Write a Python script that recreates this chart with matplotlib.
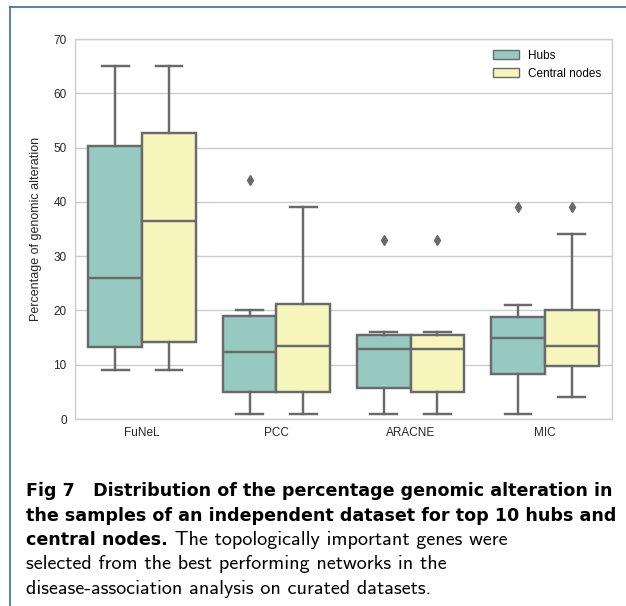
import matplotlib
matplotlib.use("Agg")
import matplotlib.pyplot as plt
from matplotlib.lines import Line2D
from matplotlib.patches import Patch
import seaborn as sns

# data (box stats per method)
methods = ["FuNeL", "PCC", "ARACNE", "MIC"]
groups = ["Hubs", "Central nodes"]

hubs_whislo = [9, 1, 1, 1]
hubs_q1 = [13.2, 5, 5.7, 8.2]
hubs_med = [26, 12.4, 12.9, 15]
hubs_q3 = [50.2, 18.9, 15.4, 18.7]
hubs_whishi = [65, 20, 16, 21]
hubs_fliers = [[], [44], [33], [39]]

central_whislo = [9, 1, 1, 4]
central_q1 = [14.2, 5, 4.9, 9.7]
central_med = [36.5, 13.4, 12.9, 13.4]
central_q3 = [52.7, 21.1, 15.5, 20.1]
central_whishi = [65, 39, 16, 34]
central_fliers = [[], [], [33], [39]]

caption_bold = ["Fig 7   Distribution of the percentage genomic alteration in",
                "the samples of an independent dataset for top 10 hubs and",
                "central nodes."]
caption_rest = [" The topologically important genes were",
                "selected from the best performing networks in the",
                "disease-association analysis on curated datasets."]

pal = [sns.desaturate(c, 0.75) for c in sns.color_palette("Set3", 2)]
gray = "#6a6a6a"

plt.rcParams["font.family"] = ["Liberation Sans", "DejaVu Sans"]

fig = plt.figure(figsize=(6.26, 6.06), dpi=100)
W, H = 626, 606
ax = fig.add_axes([75 / W, 1 - 419 / H, 537 / W, 380 / H])


def make_stats(lo, q1, med, q3, hi, fl):
    return [dict(whislo=a, q1=b, med=c, q3=d, whishi=e, fliers=f)
            for a, b, c, d, e, f in zip(lo, q1, med, q3, hi, fl)]


sets = [make_stats(hubs_whislo, hubs_q1, hubs_med, hubs_q3, hubs_whishi, hubs_fliers),
        make_stats(central_whislo, central_q1, central_med, central_q3, central_whishi, central_fliers)]

lw = 1.75
for k, stats in enumerate(sets):
    pos = [i - 0.2 + 0.4 * k for i in range(len(methods))]
    ax.bxp(stats, positions=pos, widths=0.4, patch_artist=True,
           boxprops=dict(facecolor=pal[k], edgecolor=gray, linewidth=lw),
           medianprops=dict(color=gray, linewidth=lw),
           whiskerprops=dict(color=gray, linewidth=lw),
           capprops=dict(color=gray, linewidth=lw),
           flierprops=dict(marker="d", markerfacecolor=gray, markeredgecolor=gray,
                           markersize=5, linestyle="none"),
           manage_ticks=False, zorder=3)

ax.set_xlim(-0.5, len(methods) - 0.5)
ax.set_ylim(0, 70)
ax.set_xticks(range(len(methods)))
ax.set_xticklabels(methods)
ax.set_yticks(range(0, 71, 10))
ax.tick_params(length=0, labelsize=8.5, colors="#262626")
ax.tick_params(axis="y", pad=6)
ax.tick_params(axis="x", pad=6)
ax.grid(axis="y", color="#cccccc", linewidth=1)
ax.set_axisbelow(True)
for s in ax.spines.values():
    s.set_color("#cccccc")
    s.set_linewidth(1)
ax.set_ylabel("Percentage of genomic alteration", fontsize=9, color="#262626", labelpad=8)

handles = [Patch(facecolor=pal[k], edgecolor=gray, linewidth=1) for k in range(2)]
ax.legend(handles, groups, loc="upper right", frameon=False, fontsize=8.5,
          handlelength=2.2, handleheight=0.8)

# page border lines
fig.add_artist(Line2D([10 / W, 10 / W], [0, 1 - 7 / H], color="#3a6ea5", linewidth=1.2))
fig.add_artist(Line2D([10 / W, 1], [1 - 7 / H, 1 - 7 / H], color="#3a6ea5", linewidth=1.2))

# caption
reg_font = "cmss10"
bold_font = "DejaVu Sans"
fs = 14.5
x0 = 26 / W
baselines = [496.5, 520.8, 545.1, 569.4, 593.7]
r = fig.canvas.get_renderer()

# fit the bold size so the first two lines span about the reference width
probe = fig.text(0, 0, caption_bold[1], fontsize=13, family=bold_font, weight="bold")
fs_b = 13 * 584 / probe.get_window_extent(renderer=r).width
probe.remove()

for i, line in enumerate(caption_bold):
    t = fig.text(x0, 1 - baselines[i] / H, line, fontsize=fs_b, family=bold_font,
                 weight="bold", va="baseline", ha="left", color="black")
t_ext = t.get_window_extent(renderer=r)
fig.text(t_ext.x1 / W, 1 - baselines[2] / H, caption_rest[0], fontsize=fs, family=reg_font,
         va="baseline", ha="left", color="black")
for j, line in enumerate(caption_rest[1:]):
    fig.text(x0, 1 - baselines[3 + j] / H, line, fontsize=fs, family=reg_font,
             va="baseline", ha="left", color="black")

fig.savefig("out.png", dpi=100)
